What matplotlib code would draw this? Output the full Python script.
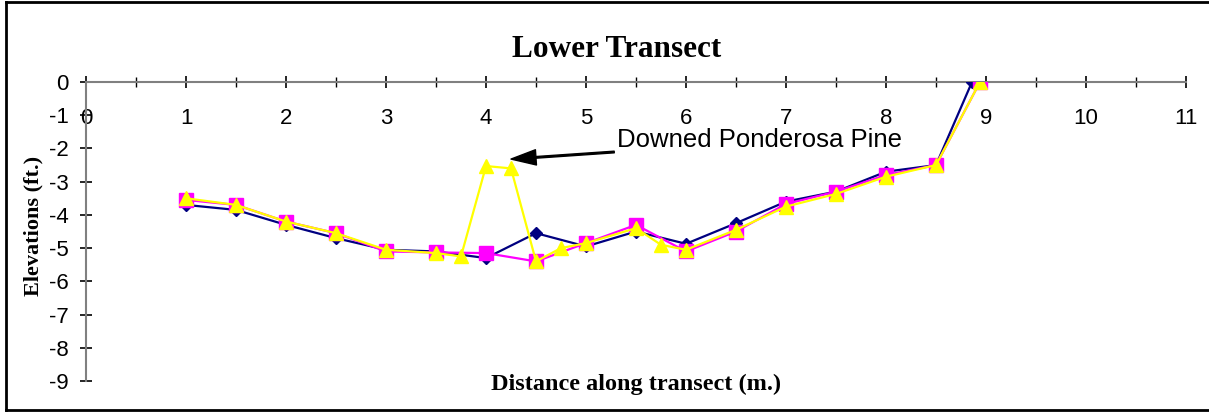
import matplotlib.pyplot as plt
from matplotlib.lines import Line2D

plt.rcParams['axes.unicode_minus'] = False

# Distance along the transect (m) for each survey
dist_a = [1, 1.5, 2, 2.5, 3, 3.5, 4, 4.5, 5, 5.5, 6, 6.5, 7, 7.5, 8, 8.5, 8.86]
elev_a = [-3.7, -3.85, -4.3, -4.7, -5.05, -5.1, -5.3, -4.55, -4.95, -4.5, -4.87,
          -4.25, -3.6, -3.3, -2.7, -2.5, 0]

dist_b = [1, 1.5, 2, 2.5, 3, 3.5, 4, 4.5, 5, 5.5, 6, 6.5, 7, 7.5, 8, 8.5, 8.94]
elev_b = [-3.55, -3.7, -4.2, -4.55, -5.1, -5.13, -5.15, -5.4, -4.85, -4.3, -5.1,
          -4.5, -3.67, -3.3, -2.8, -2.5, 0]

dist_c = [1, 1.5, 2, 2.5, 3, 3.5, 3.75, 4, 4.25, 4.5, 4.75, 5, 5.5, 5.75, 6,
          6.5, 7, 7.5, 8, 8.5, 8.94]
elev_c = [-3.5, -3.7, -4.2, -4.55, -5.05, -5.15, -5.25, -2.53, -2.6, -5.4, -5.0,
          -4.85, -4.4, -4.9, -5.05, -4.45, -3.75, -3.37, -2.85, -2.5, 0]

x_ticks = list(range(0, 12))
y_ticks = list(range(-9, 1))

fig = plt.figure(figsize=(12.09, 4.13), dpi=100)
ax = fig.add_axes([86 / 1209, 1 - 381 / 413, 1100 / 1209, 299 / 413])

ax.plot(dist_a, elev_a, color='#000080', lw=1.6, marker='D', ms=6.5,
        mfc='#000080', mec='#000080', zorder=3)
ax.plot(dist_b, elev_b, color='#FF00FF', lw=1.6, marker='s', ms=9.5,
        mfc='#FF00FF', mec='#FF00FF', zorder=4)
ax.plot(dist_c, elev_c, color='#FFFF00', lw=1.6, marker='^', ms=10.5,
        mfc='#FFFF00', mec='#FFFF00', zorder=5)

ax.set_xlim(0, 11)
ax.set_ylim(-9, 0)

# x axis sits on the zero line at the top
ax.spines['bottom'].set_position(('data', 0))
ax.spines['top'].set_visible(False)
ax.spines['right'].set_visible(False)
for s in ('bottom', 'left'):
    ax.spines[s].set_color('#808080')
    ax.spines[s].set_linewidth(1.5)
    ax.spines[s].set_zorder(2)

ax.set_xticks(x_ticks)
ax.set_xticks([i + 0.5 for i in range(11)], minor=True)
ax.set_yticks(y_ticks)
ax.tick_params(axis='x', which='both', direction='inout', length=9, width=1.2,
               color='black', labelsize=16, pad=14)
ax.tick_params(axis='x', which='minor', length=7, width=1)
ax.tick_params(axis='y', direction='inout', length=9, width=1.2, color='black',
               labelsize=16, pad=8)
for lab in ax.get_xticklabels() + ax.get_yticklabels():
    lab.set_fontfamily('Liberation Sans')

ax.set_title('Lower Transect', fontfamily='Liberation Serif', fontweight='bold',
             fontsize=22.5, x=0.482, pad=18)
ax.set_ylabel('Elevations (ft.)', fontfamily='Liberation Serif',
              fontweight='bold', fontsize=16)
ax.yaxis.set_label_coords(-0.039, 0.517)
ax.text(0.5, -0.01, 'Distance along transect (m.)', transform=ax.transAxes,
        ha='center', va='center', fontfamily='Liberation Serif',
        fontweight='bold', fontsize=17.5)

ax.annotate('Downed Ponderosa Pine', xy=(4.25, -2.32), xytext=(5.31, -1.74),
            fontsize=18.5, fontfamily='Liberation Sans', va='center',
            arrowprops=dict(facecolor='black', edgecolor='black', width=1.2,
                            headwidth=11, headlength=18, shrink=0.0))

# chart area border
fig.add_artist(Line2D([6 / 1209, 1], [1 - 1.5 / 413] * 2, color='black', lw=2))
fig.add_artist(Line2D([6 / 1209] * 2, [1 - 1.5 / 413, 1 - 410 / 413],
                      color='black', lw=2))
fig.add_artist(Line2D([6 / 1209, 1], [1 - 410 / 413] * 2, color='black', lw=2))

fig.savefig('out.png', dpi=100)
